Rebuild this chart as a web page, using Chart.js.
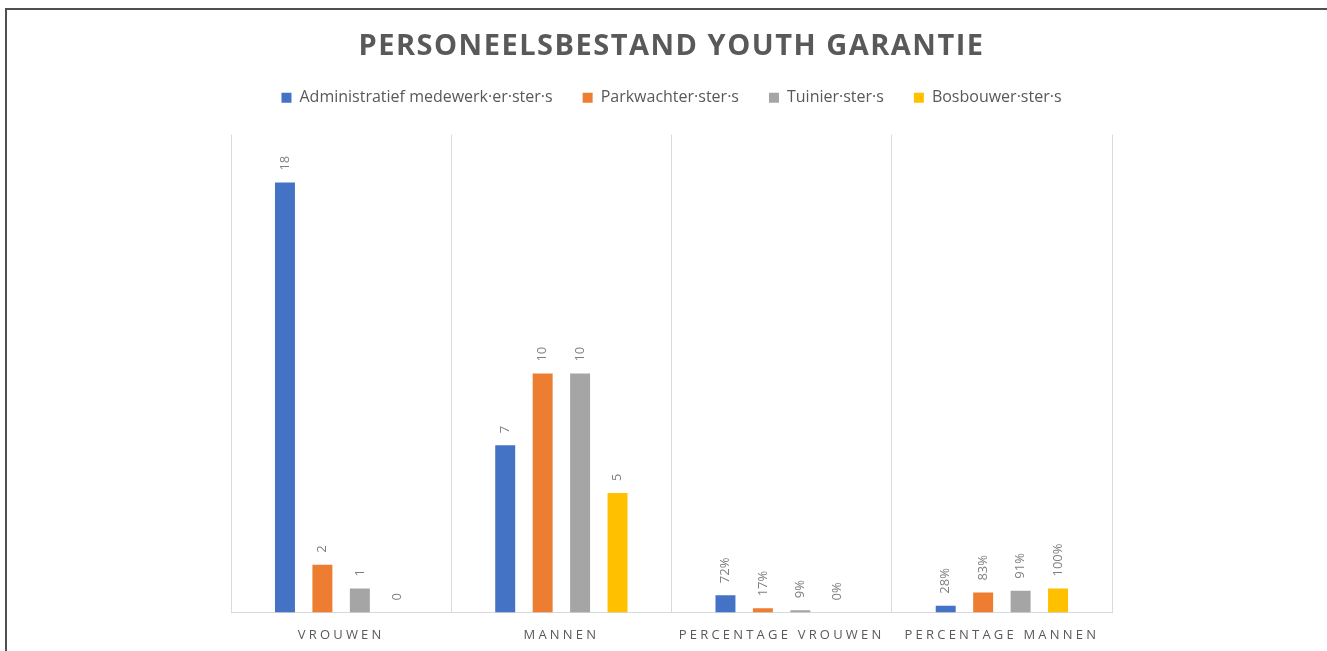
<!DOCTYPE html>
<html><head><meta charset="utf-8">
<script src="https://cdn.jsdelivr.net/npm/chart.js@4.4.1/dist/chart.umd.min.js"></script>
<style>
html,body{margin:0;padding:0;background:#fff;overflow:hidden;width:1327px;height:651px;}
#frame{position:absolute;left:5px;top:8px;width:1326px;height:660px;border:2px solid #505050;background:#fff;}
canvas{display:block;}
</style></head><body>
<div id="frame"><canvas id="c" width="1326" height="660"></canvas></div>
<script>
const chartTitle = 'PERSONEELSBESTAND YOUTH GARANTIE';
const categories = ['VROUWEN', 'MANNEN', 'PERCENTAGE VROUWEN', 'PERCENTAGE MANNEN'];
const isPercentCategory = [false, false, true, true];
const seriesNames = ['Administratief medewerk·er·ster·s', 'Parkwachter·ster·s', 'Tuinier·ster·s', 'Bosbouwer·ster·s'];
const administratief = [18, 7, 0.72, 0.28];
const parkwachter = [2, 10, 0.17, 0.83];
const tuinier = [1, 10, 0.09, 0.91];
const bosbouwer = [0, 5, 0, 1.00];
const seriesColors = ['#4472C4', '#ED7D31', '#A5A5A5', '#FFC000'];
const yMin = 0;
const yMax = 20;

const seriesValues = [administratief, parkwachter, tuinier, bosbouwer];

function withSpacing(obj, fnName, spacing) {
  if (!obj || obj['__sp_' + fnName]) return;
  const orig = obj[fnName];
  obj[fnName] = function (...args) {
    const c = this.ctx;
    const prev = c.letterSpacing;
    c.letterSpacing = spacing;
    const r = orig.apply(this, args);
    c.letterSpacing = prev;
    return r;
  };
  obj['__sp_' + fnName] = true;
}

const tweaks = {
  id: 'tweaks',
  beforeLayout(chart) {
    const lg = chart.legend;
    if (lg && !lg.__gap) {
      const fit = lg.fit;
      lg.fit = function () { fit.call(this); this.height += 19; };
      lg.__gap = true;
    }
    withSpacing(chart.titleBlock, 'draw', '1.5px');
  },
  beforeDraw(chart) {
    withSpacing(chart.scales.x, 'drawLabels', '3.2px');
  }
};

const barLabels = {
  id: 'barLabels',
  afterDatasetsDraw(chart) {
    const ctx = chart.ctx;
    ctx.save();
    ctx.font = '13px "Open Sans"';
    ctx.fillStyle = '#7F7F7F';
    ctx.textAlign = 'left';
    ctx.textBaseline = 'middle';
    chart.data.datasets.forEach((ds, di) => {
      const meta = chart.getDatasetMeta(di);
      meta.data.forEach((bar, i) => {
        const v = ds.data[i];
        const txt = isPercentCategory[i] ? Math.round(v * 100) + '%' : String(v);
        ctx.save();
        ctx.translate(bar.x, bar.y - 12);
        ctx.rotate(-Math.PI / 2);
        ctx.fillText(txt, 0, 0);
        ctx.restore();
      });
    });
    ctx.restore();
  }
};

new Chart(document.getElementById('c'), {
  type: 'bar',
  data: {
    labels: categories,
    datasets: seriesNames.map((name, i) => ({
      label: name,
      data: seriesValues[i],
      backgroundColor: seriesColors[i],
      borderWidth: 0,
      categoryPercentage: 0.68,
      barPercentage: 0.533
    }))
  },
  options: {
    responsive: false,
    animation: false,
    devicePixelRatio: 1,
    layout: { padding: { left: 224, right: 221, top: 0, bottom: 12 } },
    plugins: {
      title: {
        display: true,
        text: chartTitle,
        color: '#595959',
        font: { family: 'Open Sans', size: 29, weight: 'bold' },
        padding: { top: 19, bottom: -4 }
      },
      legend: {
        display: true,
        position: 'top',
        labels: {
          boxWidth: 10,
          boxHeight: 10,
          padding: 30,
          color: '#595959',
          font: { family: 'Open Sans', size: 16 }
        }
      },
      tooltip: { enabled: false }
    },
    scales: {
      x: {
        grid: { display: true, color: '#D9D9D9', offset: true, drawTicks: false, lineWidth: 1 },
        border: { display: true, color: '#D9D9D9', width: 1 },
        ticks: {
          color: '#595959',
          font: { family: 'Open Sans', size: 13 },
          padding: 15,
          maxRotation: 0,
          autoSkip: false
        }
      },
      y: {
        display: false,
        min: yMin,
        max: yMax
      }
    }
  },
  plugins: [tweaks, barLabels]
});
</script>
</body></html>
